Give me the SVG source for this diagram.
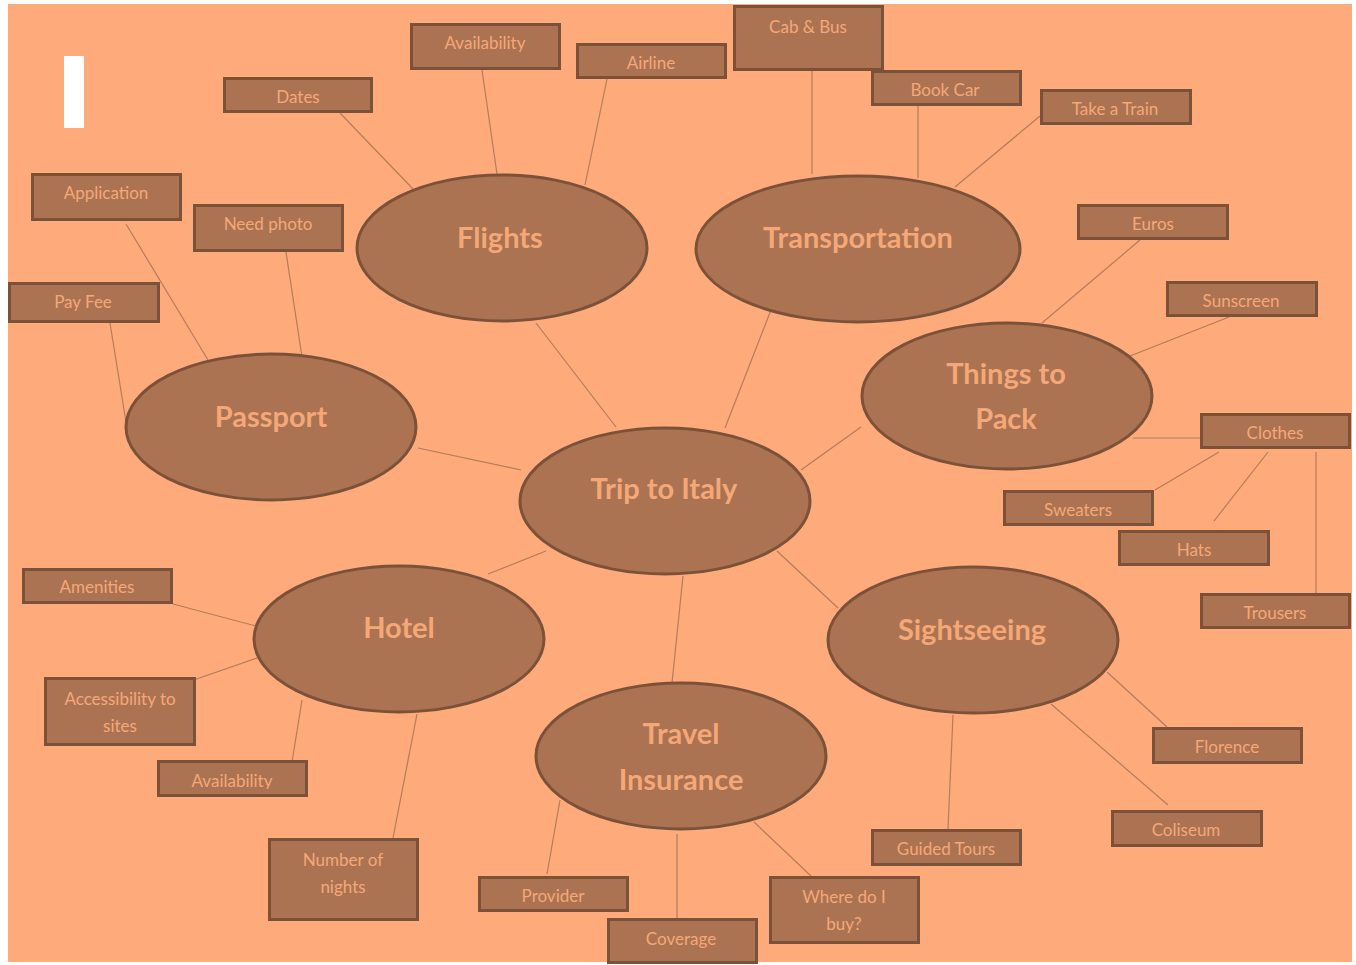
<svg xmlns="http://www.w3.org/2000/svg" width="1356" height="965" viewBox="0 0 1356 965">
<style>
.bg{fill:#FFAA7A}
.box{fill:#AB7352;stroke:#7B5239;stroke-width:3}
.ell{fill:#AB7352;stroke:#7B5239;stroke-width:3}
.lt{font-family:Lato,"Open Sans","Liberation Sans",sans-serif;font-size:17px;fill:#F5A877;text-anchor:middle}
.bt{font-family:Lato,"Open Sans","Liberation Sans",sans-serif;font-size:29px;font-weight:bold;fill:#F5A877;text-anchor:middle}
.ln{stroke:#B27D5B;stroke-width:1.2;fill:none}
</style>
<defs>
<clipPath id="clipAv2"><rect x="159" y="762" width="147" height="27"/></clipPath>
</defs>
<rect x="0" y="0" width="1356" height="965" fill="#FFFFFF"/>
<rect class="bg" x="8" y="4" width="1344" height="958"/>
<rect x="64" y="56" width="20" height="72" fill="#FFFFFF"/>
<g id="connectors">
<line class="ln" x1="340" y1="113" x2="413" y2="189"/>
<line class="ln" x1="482" y1="70" x2="497" y2="174"/>
<line class="ln" x1="607" y1="79" x2="585" y2="185"/>
<line class="ln" x1="812" y1="71" x2="812" y2="174"/>
<line class="ln" x1="918" y1="106" x2="918" y2="178"/>
<line class="ln" x1="1040" y1="116" x2="955" y2="187"/>
<line class="ln" x1="126" y1="224" x2="208" y2="360"/>
<line class="ln" x1="286" y1="252" x2="302" y2="357"/>
<line class="ln" x1="110" y1="323" x2="126" y2="422"/>
<line class="ln" x1="536" y1="323" x2="616" y2="427"/>
<line class="ln" x1="771" y1="310" x2="725" y2="428"/>
<line class="ln" x1="418" y1="448" x2="521" y2="470"/>
<line class="ln" x1="861" y1="427" x2="801" y2="470"/>
<line class="ln" x1="1140" y1="240" x2="1042" y2="323"/>
<line class="ln" x1="1229" y1="317" x2="1130" y2="356"/>
<line class="ln" x1="1133" y1="438" x2="1200" y2="438"/>
<line class="ln" x1="1219" y1="452" x2="1155" y2="490"/>
<line class="ln" x1="1268" y1="452" x2="1214" y2="521"/>
<line class="ln" x1="1316" y1="452" x2="1316" y2="593"/>
<line class="ln" x1="546" y1="551" x2="488" y2="574"/>
<line class="ln" x1="173" y1="604" x2="256" y2="626"/>
<line class="ln" x1="185" y1="683" x2="260" y2="657"/>
<line class="ln" x1="292" y1="762" x2="302" y2="700"/>
<line class="ln" x1="393" y1="838" x2="417" y2="714"/>
<line class="ln" x1="683" y1="576" x2="672" y2="683"/>
<line class="ln" x1="777" y1="551" x2="838" y2="608"/>
<line class="ln" x1="560" y1="800" x2="547" y2="874"/>
<line class="ln" x1="677" y1="834" x2="677" y2="918"/>
<line class="ln" x1="754" y1="822" x2="811" y2="876"/>
<line class="ln" x1="953" y1="715" x2="948" y2="829"/>
<line class="ln" x1="1107" y1="672" x2="1167" y2="727"/>
<line class="ln" x1="1051" y1="704" x2="1168" y2="805"/>
</g>
<g id="flights"><ellipse class="ell" cx="502" cy="248" rx="145" ry="73"/><text class="bt" x="500" y="248">Flights</text></g>
<g id="transportation"><ellipse class="ell" cx="858" cy="249" rx="162" ry="73"/><text class="bt" x="858" y="248">Transportation</text></g>
<g id="passport"><ellipse class="ell" cx="271" cy="427" rx="145" ry="73"/><text class="bt" x="271" y="427">Passport</text></g>
<g id="things"><ellipse class="ell" cx="1007" cy="396" rx="145" ry="73"/><text class="bt" x="1006" y="384">Things to</text><text class="bt" x="1006" y="429">Pack</text></g>
<g id="trip"><ellipse class="ell" cx="665" cy="501" rx="145" ry="73"/><text class="bt" x="664" y="499">Trip to Italy</text></g>
<g id="hotel"><ellipse class="ell" cx="399" cy="639" rx="145" ry="73"/><text class="bt" x="399" y="638">Hotel</text></g>
<g id="sightseeing"><ellipse class="ell" cx="973" cy="640" rx="145" ry="73"/><text class="bt" x="972" y="640">Sightseeing</text></g>
<g id="insurance"><ellipse class="ell" cx="681" cy="756" rx="145" ry="73"/><text class="bt" x="681" y="744">Travel</text><text class="bt" x="681" y="790">Insurance</text></g>
<g id="dates"><rect class="box" x="224.5" y="78.5" width="147" height="33"/><text class="lt" x="298" y="103">Dates</text></g>
<g id="availability1"><rect class="box" x="411.5" y="24.5" width="148" height="44"/><text class="lt" x="485" y="49">Availability</text></g>
<g id="airline"><rect class="box" x="577.5" y="44.5" width="148" height="33"/><text class="lt" x="651" y="69">Airline</text></g>
<g id="cabbus"><rect class="box" x="734.5" y="6.5" width="148" height="63"/><text class="lt" x="808" y="33">Cab &amp; Bus</text></g>
<g id="bookcar"><rect class="box" x="872.5" y="71.5" width="148" height="33"/><text class="lt" x="945" y="96">Book Car</text></g>
<g id="train"><rect class="box" x="1041.5" y="90.5" width="149" height="33"/><text class="lt" x="1115" y="115">Take a Train</text></g>
<g id="application"><rect class="box" x="32.5" y="174.5" width="148" height="45"/><text class="lt" x="106" y="199">Application</text></g>
<g id="needphoto"><rect class="box" x="194.5" y="205.5" width="148" height="45"/><text class="lt" x="268" y="230">Need photo</text></g>
<g id="payfee"><rect class="box" x="9.5" y="283.5" width="149" height="38"/><text class="lt" x="83" y="308">Pay Fee</text></g>
<g id="euros"><rect class="box" x="1078.5" y="205.5" width="149" height="33"/><text class="lt" x="1153" y="230">Euros</text></g>
<g id="sunscreen"><rect class="box" x="1167.5" y="282.5" width="149" height="33"/><text class="lt" x="1241" y="307">Sunscreen</text></g>
<g id="clothes"><rect class="box" x="1201.5" y="414.5" width="148" height="33"/><text class="lt" x="1275" y="439">Clothes</text></g>
<g id="sweaters"><rect class="box" x="1004.5" y="491.5" width="148" height="33"/><text class="lt" x="1078" y="516">Sweaters</text></g>
<g id="hats"><rect class="box" x="1119.5" y="531.5" width="149" height="33"/><text class="lt" x="1194" y="556">Hats</text></g>
<g id="trousers"><rect class="box" x="1201.5" y="594.5" width="148" height="33"/><text class="lt" x="1275" y="619">Trousers</text></g>
<g id="amenities"><rect class="box" x="23.5" y="569.5" width="148" height="33"/><text class="lt" x="97" y="593">Amenities</text></g>
<g id="accessibility"><rect class="box" x="45.5" y="678.5" width="149" height="66"/><text class="lt" x="120" y="705">Accessibility to</text><text class="lt" x="120" y="732">sites</text></g>
<g id="availability2"><rect class="box" x="158.5" y="761.5" width="148" height="34"/><text class="lt" x="232" y="787" clip-path="url(#clipAv2)">Availability</text></g>
<g id="nights"><rect class="box" x="269.5" y="839.5" width="148" height="80"/><text class="lt" x="343" y="866">Number of</text><text class="lt" x="343" y="893">nights</text></g>
<g id="provider"><rect class="box" x="479.5" y="877.5" width="148" height="33"/><text class="lt" x="553" y="902">Provider</text></g>
<g id="coverage"><rect class="box" x="608.5" y="919.5" width="148" height="43"/><text class="lt" x="681" y="945">Coverage</text></g>
<g id="wherebuy"><rect class="box" x="770.5" y="877.5" width="148" height="65"/><text class="lt" x="844" y="903">Where do I</text><text class="lt" x="844" y="930">buy?</text></g>
<g id="guided"><rect class="box" x="872.5" y="830.5" width="148" height="34"/><text class="lt" x="946" y="855">Guided Tours</text></g>
<g id="florence"><rect class="box" x="1153.5" y="728.5" width="148" height="34"/><text class="lt" x="1227" y="753">Florence</text></g>
<g id="coliseum"><rect class="box" x="1112.5" y="811.5" width="149" height="34"/><text class="lt" x="1186" y="836">Coliseum</text></g>
</svg>
